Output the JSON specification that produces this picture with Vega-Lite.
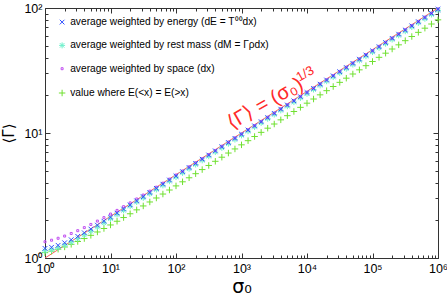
{
  "$schema": "https://vega.github.io/schema/vega-lite/v6.json",
  "width": 393,
  "height": 250,
  "autosize": "none",
  "padding": {"left": 45, "top": 8, "right": 9, "bottom": 42},
  "background": "white",
  "config": {"view": {"stroke": null}, "font": "Liberation Sans"},
  "datasets": {
    "theory": [{"sigma0": 1, "gamma": 1}, {"sigma0": 1000000, "gamma": 100}],
    "note": [{"sigma0": 2557, "gamma": 15.59, "text": "⟨Γ⟩ = (σ₀)", "fs": 20}, {"sigma0": 10035, "gamma": 27.9, "text": "1/3", "fs": 13}],
    "pts": [
      {"sigma0":1,"gamma":1.104,"series":"H"},{"sigma0":1.259,"gamma":1.135,"series":"H"},{"sigma0":1.585,"gamma":1.176,"series":"H"},{"sigma0":1.995,"gamma":1.226,"series":"H"},{"sigma0":2.512,"gamma":1.286,"series":"H"},{"sigma0":3.162,"gamma":1.355,"series":"H"},{"sigma0":3.981,"gamma":1.431,"series":"H"},{"sigma0":5.012,"gamma":1.518,"series":"H"},{"sigma0":6.31,"gamma":1.615,"series":"H"},{"sigma0":7.943,"gamma":1.722,"series":"H"},
      {"sigma0":10,"gamma":1.838,"series":"H"},{"sigma0":12.59,"gamma":1.968,"series":"H"},{"sigma0":15.85,"gamma":2.107,"series":"H"},{"sigma0":19.95,"gamma":2.259,"series":"H"},{"sigma0":25.12,"gamma":2.428,"series":"H"},{"sigma0":31.62,"gamma":2.609,"series":"H"},{"sigma0":39.81,"gamma":2.807,"series":"H"},{"sigma0":50.12,"gamma":3.02,"series":"H"},{"sigma0":63.1,"gamma":3.249,"series":"H"},{"sigma0":79.43,"gamma":3.499,"series":"H"},
      {"sigma0":100,"gamma":3.774,"series":"H"},{"sigma0":125.9,"gamma":4.07,"series":"H"},{"sigma0":158.5,"gamma":4.383,"series":"H"},{"sigma0":199.5,"gamma":4.727,"series":"H"},{"sigma0":251.2,"gamma":5.098,"series":"H"},{"sigma0":316.2,"gamma":5.498,"series":"H"},{"sigma0":398.1,"gamma":5.937,"series":"H"},{"sigma0":501.2,"gamma":6.402,"series":"H"},{"sigma0":631,"gamma":6.913,"series":"H"},{"sigma0":794.3,"gamma":7.455,"series":"H"},
      {"sigma0":1000,"gamma":8.04,"series":"H"},{"sigma0":1259,"gamma":8.682,"series":"H"},{"sigma0":1585,"gamma":9.374,"series":"H"},{"sigma0":1995,"gamma":10.12,"series":"H"},{"sigma0":2512,"gamma":10.93,"series":"H"},{"sigma0":3162,"gamma":11.8,"series":"H"},{"sigma0":3981,"gamma":12.74,"series":"H"},{"sigma0":5012,"gamma":13.76,"series":"H"},{"sigma0":6310,"gamma":14.86,"series":"H"},{"sigma0":7943,"gamma":16.04,"series":"H"},
      {"sigma0":10000,"gamma":17.32,"series":"H"},{"sigma0":12589,"gamma":18.7,"series":"H"},{"sigma0":15849,"gamma":20.2,"series":"H"},{"sigma0":19953,"gamma":21.81,"series":"H"},{"sigma0":25119,"gamma":23.55,"series":"H"},{"sigma0":31623,"gamma":25.42,"series":"H"},{"sigma0":39811,"gamma":27.45,"series":"H"},{"sigma0":50119,"gamma":29.64,"series":"H"},{"sigma0":63096,"gamma":32.01,"series":"H"},{"sigma0":79433,"gamma":34.56,"series":"H"},
      {"sigma0":100000,"gamma":37.32,"series":"H"},{"sigma0":125893,"gamma":40.3,"series":"H"},{"sigma0":158489,"gamma":43.51,"series":"H"},{"sigma0":199526,"gamma":46.98,"series":"H"},{"sigma0":251189,"gamma":50.73,"series":"H"},{"sigma0":316228,"gamma":54.78,"series":"H"},{"sigma0":398107,"gamma":59.15,"series":"H"},{"sigma0":501187,"gamma":63.86,"series":"H"},{"sigma0":630957,"gamma":68.96,"series":"H"},{"sigma0":794328,"gamma":74.46,"series":"H"},{"sigma0":1000000,"gamma":80.4,"series":"H"},

      {"sigma0":1,"gamma":1.14,"series":"M"},{"sigma0":1.259,"gamma":1.165,"series":"M"},{"sigma0":1.585,"gamma":1.207,"series":"M"},{"sigma0":1.995,"gamma":1.268,"series":"M"},{"sigma0":2.512,"gamma":1.34,"series":"M"},{"sigma0":3.162,"gamma":1.428,"series":"M"},{"sigma0":3.981,"gamma":1.528,"series":"M"},{"sigma0":5.012,"gamma":1.638,"series":"M"},{"sigma0":6.31,"gamma":1.768,"series":"M"},{"sigma0":7.943,"gamma":1.909,"series":"M"},
      {"sigma0":10,"gamma":2.062,"series":"M"},{"sigma0":12.59,"gamma":2.226,"series":"M"},{"sigma0":15.85,"gamma":2.404,"series":"M"},{"sigma0":19.95,"gamma":2.596,"series":"M"},{"sigma0":25.12,"gamma":2.803,"series":"M"},{"sigma0":31.62,"gamma":3.026,"series":"M"},{"sigma0":39.81,"gamma":3.268,"series":"M"},{"sigma0":50.12,"gamma":3.528,"series":"M"},{"sigma0":63.1,"gamma":3.81,"series":"M"},{"sigma0":79.43,"gamma":4.114,"series":"M"},
      {"sigma0":100,"gamma":4.442,"series":"M"},{"sigma0":125.9,"gamma":4.796,"series":"M"},{"sigma0":158.5,"gamma":5.179,"series":"M"},{"sigma0":199.5,"gamma":5.592,"series":"M"},{"sigma0":251.2,"gamma":6.038,"series":"M"},{"sigma0":316.2,"gamma":6.52,"series":"M"},{"sigma0":398.1,"gamma":7.04,"series":"M"},{"sigma0":501.2,"gamma":7.602,"series":"M"},{"sigma0":631,"gamma":8.208,"series":"M"},{"sigma0":794.3,"gamma":8.863,"series":"M"},
      {"sigma0":1000,"gamma":9.57,"series":"M"},{"sigma0":1259,"gamma":10.33,"series":"M"},{"sigma0":1585,"gamma":11.16,"series":"M"},{"sigma0":1995,"gamma":12.05,"series":"M"},{"sigma0":2512,"gamma":13.01,"series":"M"},{"sigma0":3162,"gamma":14.05,"series":"M"},{"sigma0":3981,"gamma":15.17,"series":"M"},{"sigma0":5012,"gamma":16.38,"series":"M"},{"sigma0":6310,"gamma":17.68,"series":"M"},{"sigma0":7943,"gamma":19.09,"series":"M"},
      {"sigma0":10000,"gamma":20.62,"series":"M"},{"sigma0":12589,"gamma":22.26,"series":"M"},{"sigma0":15849,"gamma":24.04,"series":"M"},{"sigma0":19953,"gamma":25.96,"series":"M"},{"sigma0":25119,"gamma":28.03,"series":"M"},{"sigma0":31623,"gamma":30.26,"series":"M"},{"sigma0":39811,"gamma":32.68,"series":"M"},{"sigma0":50119,"gamma":35.28,"series":"M"},{"sigma0":63096,"gamma":38.1,"series":"M"},{"sigma0":79433,"gamma":41.14,"series":"M"},
      {"sigma0":100000,"gamma":44.42,"series":"M"},{"sigma0":125893,"gamma":47.96,"series":"M"},{"sigma0":158489,"gamma":51.79,"series":"M"},{"sigma0":199526,"gamma":55.92,"series":"M"},{"sigma0":251189,"gamma":60.38,"series":"M"},{"sigma0":316228,"gamma":65.2,"series":"M"},{"sigma0":398107,"gamma":70.4,"series":"M"},{"sigma0":501187,"gamma":76.02,"series":"M"},{"sigma0":630957,"gamma":82.08,"series":"M"},{"sigma0":794328,"gamma":88.63,"series":"M"},{"sigma0":1000000,"gamma":95.7,"series":"M"},

      {"sigma0":1,"gamma":1.349,"series":"V"},{"sigma0":1.259,"gamma":1.388,"series":"V"},{"sigma0":1.585,"gamma":1.438,"series":"V"},{"sigma0":1.995,"gamma":1.498,"series":"V"},{"sigma0":2.512,"gamma":1.571,"series":"V"},{"sigma0":3.162,"gamma":1.654,"series":"V"},{"sigma0":3.981,"gamma":1.75,"series":"V"},{"sigma0":5.012,"gamma":1.855,"series":"V"},{"sigma0":6.31,"gamma":1.974,"series":"V"},{"sigma0":7.943,"gamma":2.103,"series":"V"},
      {"sigma0":10,"gamma":2.247,"series":"V"},{"sigma0":12.59,"gamma":2.403,"series":"V"},{"sigma0":15.85,"gamma":2.575,"series":"V"},{"sigma0":19.95,"gamma":2.761,"series":"V"},{"sigma0":25.12,"gamma":2.967,"series":"V"},{"sigma0":31.62,"gamma":3.188,"series":"V"},{"sigma0":39.81,"gamma":3.428,"series":"V"},{"sigma0":50.12,"gamma":3.687,"series":"V"},{"sigma0":63.1,"gamma":3.969,"series":"V"},{"sigma0":79.43,"gamma":4.277,"series":"V"},
      {"sigma0":100,"gamma":4.609,"series":"V"},{"sigma0":125.9,"gamma":4.967,"series":"V"},{"sigma0":158.5,"gamma":5.358,"series":"V"},{"sigma0":199.5,"gamma":5.779,"series":"V"},{"sigma0":251.2,"gamma":6.228,"series":"V"},{"sigma0":316.2,"gamma":6.718,"series":"V"},{"sigma0":398.1,"gamma":7.253,"series":"V"},{"sigma0":501.2,"gamma":7.832,"series":"V"},{"sigma0":631,"gamma":8.457,"series":"V"},{"sigma0":794.3,"gamma":9.132,"series":"V"},
      {"sigma0":1000,"gamma":9.83,"series":"V"},{"sigma0":1259,"gamma":10.61,"series":"V"},{"sigma0":1585,"gamma":11.46,"series":"V"},{"sigma0":1995,"gamma":12.37,"series":"V"},{"sigma0":2512,"gamma":13.36,"series":"V"},{"sigma0":3162,"gamma":14.43,"series":"V"},{"sigma0":3981,"gamma":15.58,"series":"V"},{"sigma0":5012,"gamma":16.82,"series":"V"},{"sigma0":6310,"gamma":18.16,"series":"V"},{"sigma0":7943,"gamma":19.61,"series":"V"},
      {"sigma0":10000,"gamma":21.18,"series":"V"},{"sigma0":12589,"gamma":22.87,"series":"V"},{"sigma0":15849,"gamma":24.69,"series":"V"},{"sigma0":19953,"gamma":26.66,"series":"V"},{"sigma0":25119,"gamma":28.79,"series":"V"},{"sigma0":31623,"gamma":31.09,"series":"V"},{"sigma0":39811,"gamma":33.56,"series":"V"},{"sigma0":50119,"gamma":36.24,"series":"V"},{"sigma0":63096,"gamma":39.13,"series":"V"},{"sigma0":79433,"gamma":42.26,"series":"V"},
      {"sigma0":100000,"gamma":45.63,"series":"V"},{"sigma0":125893,"gamma":49.27,"series":"V"},{"sigma0":158489,"gamma":53.2,"series":"V"},{"sigma0":199526,"gamma":57.44,"series":"V"},{"sigma0":251189,"gamma":62.02,"series":"V"},{"sigma0":316228,"gamma":66.97,"series":"V"},{"sigma0":398107,"gamma":72.31,"series":"V"},{"sigma0":501187,"gamma":78.08,"series":"V"},{"sigma0":630957,"gamma":84.31,"series":"V"},{"sigma0":794328,"gamma":91.04,"series":"V"},{"sigma0":1000000,"gamma":98.3,"series":"V"},

      {"sigma0":1,"gamma":1.194,"series":"E"},{"sigma0":1.259,"gamma":1.218,"series":"E"},{"sigma0":1.585,"gamma":1.263,"series":"E"},{"sigma0":1.995,"gamma":1.324,"series":"E"},{"sigma0":2.512,"gamma":1.4,"series":"E"},{"sigma0":3.162,"gamma":1.49,"series":"E"},{"sigma0":3.981,"gamma":1.591,"series":"E"},{"sigma0":5.012,"gamma":1.705,"series":"E"},{"sigma0":6.31,"gamma":1.831,"series":"E"},{"sigma0":7.943,"gamma":1.969,"series":"E"},
      {"sigma0":10,"gamma":2.12,"series":"E"},{"sigma0":12.59,"gamma":2.284,"series":"E"},{"sigma0":15.85,"gamma":2.464,"series":"E"},{"sigma0":19.95,"gamma":2.658,"series":"E"},{"sigma0":25.12,"gamma":2.864,"series":"E"},{"sigma0":31.62,"gamma":3.093,"series":"E"},{"sigma0":39.81,"gamma":3.339,"series":"E"},{"sigma0":50.12,"gamma":3.606,"series":"E"},{"sigma0":63.1,"gamma":3.893,"series":"E"},{"sigma0":79.43,"gamma":4.204,"series":"E"},
      {"sigma0":100,"gamma":4.539,"series":"E"},{"sigma0":125.9,"gamma":4.902,"series":"E"},{"sigma0":158.5,"gamma":5.293,"series":"E"},{"sigma0":199.5,"gamma":5.715,"series":"E"},{"sigma0":251.2,"gamma":6.171,"series":"E"},{"sigma0":316.2,"gamma":6.663,"series":"E"},{"sigma0":398.1,"gamma":7.195,"series":"E"},{"sigma0":501.2,"gamma":7.769,"series":"E"},{"sigma0":631,"gamma":8.388,"series":"E"},{"sigma0":794.3,"gamma":9.057,"series":"E"},
      {"sigma0":1000,"gamma":9.78,"series":"E"},{"sigma0":1259,"gamma":10.56,"series":"E"},{"sigma0":1585,"gamma":11.4,"series":"E"},{"sigma0":1995,"gamma":12.31,"series":"E"},{"sigma0":2512,"gamma":13.29,"series":"E"},{"sigma0":3162,"gamma":14.35,"series":"E"},{"sigma0":3981,"gamma":15.5,"series":"E"},{"sigma0":5012,"gamma":16.74,"series":"E"},{"sigma0":6310,"gamma":18.07,"series":"E"},{"sigma0":7943,"gamma":19.51,"series":"E"},
      {"sigma0":10000,"gamma":21.07,"series":"E"},{"sigma0":12589,"gamma":22.75,"series":"E"},{"sigma0":15849,"gamma":24.57,"series":"E"},{"sigma0":19953,"gamma":26.53,"series":"E"},{"sigma0":25119,"gamma":28.64,"series":"E"},{"sigma0":31623,"gamma":30.93,"series":"E"},{"sigma0":39811,"gamma":33.39,"series":"E"},{"sigma0":50119,"gamma":36.06,"series":"E"},{"sigma0":63096,"gamma":38.93,"series":"E"},{"sigma0":79433,"gamma":42.04,"series":"E"},
      {"sigma0":100000,"gamma":45.39,"series":"E"},{"sigma0":125893,"gamma":49.02,"series":"E"},{"sigma0":158489,"gamma":52.93,"series":"E"},{"sigma0":199526,"gamma":57.15,"series":"E"},{"sigma0":251189,"gamma":61.71,"series":"E"},{"sigma0":316228,"gamma":66.63,"series":"E"},{"sigma0":398107,"gamma":71.95,"series":"E"},{"sigma0":501187,"gamma":77.69,"series":"E"},{"sigma0":630957,"gamma":83.88,"series":"E"},{"sigma0":794328,"gamma":90.57,"series":"E"},{"sigma0":1000000,"gamma":97.8,"series":"E"}
    ]
  },
  "layer": [
    {
      "data": {"name": "theory"},
      "mark": {"type": "line", "color": "#ff6060", "strokeWidth": 1, "clip": true},
      "encoding": {
        "x": {"field": "sigma0", "type": "quantitative", "scale": {"type": "log", "domain": [1, 1000000], "nice": false},
          "axis": {"orient": "top", "values": [1,2,3,4,5,6,7,8,9,10,20,30,40,50,60,70,80,90,100,200,300,400,500,600,700,800,900,1000,2000,3000,4000,5000,6000,7000,8000,9000,10000,20000,30000,40000,50000,60000,70000,80000,90000,100000,200000,300000,400000,500000,600000,700000,800000,900000,1000000],
            "labels": false, "title": null, "grid": false, "domainColor": "#333", "tickColor": "#333",
            "tickSize": {"condition": {"test": "abs(log(datum.value)/LN10 - round(log(datum.value)/LN10)) < 0.001", "value": -5}, "value": -3}}},
        "y": {"field": "gamma", "type": "quantitative", "scale": {"type": "log", "domain": [1, 100], "nice": false},
          "axis": {"orient": "right", "values": [1,2,3,4,5,6,7,8,9,10,20,30,40,50,60,70,80,90,100],
            "labels": false, "title": null, "grid": false, "domainColor": "#333", "tickColor": "#333",
            "tickSize": {"condition": {"test": "abs(log(datum.value)/LN10 - round(log(datum.value)/LN10)) < 0.001", "value": -5}, "value": -3}}}
      }
    },
    {
      "data": {"name": "pts"},
      "mark": {"type": "point", "filled": false, "opacity": 1, "strokeWidth": 1},
      "encoding": {
        "x": {"field": "sigma0", "type": "quantitative", "scale": {"type": "log", "domain": [1, 1000000], "nice": false},
          "axis": {"orient": "bottom", "values": [1,2,3,4,5,6,7,8,9,10,20,30,40,50,60,70,80,90,100,200,300,400,500,600,700,800,900,1000,2000,3000,4000,5000,6000,7000,8000,9000,10000,20000,30000,40000,50000,60000,70000,80000,90000,100000,200000,300000,400000,500000,600000,700000,800000,900000,1000000],
            "labelExpr": "abs(log(datum.value)/LN10 - round(log(datum.value)/LN10)) < 0.001 ? '10' + ['⁰','¹','²','³','⁴','⁵','⁶'][round(log(datum.value)/LN10)] : ''",
            "labelFlush": false, "labelOverlap": false, "labelFontSize": 12.5, "labelColor": "black", "labelPadding": 9,
            "title": "σ₀", "titleFontSize": 19, "titleFontWeight": "normal", "titleColor": "black", "titlePadding": 1, "titleFont": "DejaVu Sans",
            "grid": false, "domainColor": "#333", "tickColor": "#333",
            "tickSize": {"condition": {"test": "abs(log(datum.value)/LN10 - round(log(datum.value)/LN10)) < 0.001", "value": -5}, "value": -3}}},
        "y": {"field": "gamma", "type": "quantitative", "scale": {"type": "log", "domain": [1, 100], "nice": false},
          "axis": {"orient": "left", "values": [1,2,3,4,5,6,7,8,9,10,20,30,40,50,60,70,80,90,100],
            "labelExpr": "abs(log(datum.value)/LN10 - round(log(datum.value)/LN10)) < 0.001 ? '10' + ['⁰','¹','²'][round(log(datum.value)/LN10)] : ''",
            "labelFlush": false, "labelOverlap": false, "labelFontSize": 12.5, "labelColor": "black", "labelPadding": 8,
            "title": "⟨Γ⟩", "titleFontSize": 15, "titleFontWeight": "normal", "titleColor": "black", "titlePadding": 7, "titleFont": "DejaVu Sans",
            "grid": false, "domainColor": "#333", "tickColor": "#333",
            "tickSize": {"condition": {"test": "abs(log(datum.value)/LN10 - round(log(datum.value)/LN10)) < 0.001", "value": -5}, "value": -3}}},
        "color": {"field": "series", "type": "nominal",
          "scale": {"domain": ["E", "M", "V", "H"], "range": ["#3050ff", "#70f0cc", "#c050f0", "#70e030"]},
          "legend": {"orient": "none", "legendX": 12, "legendY": 9, "title": null, "padding": 0,
            "labelFontSize": 10.2, "labelFont": "Liberation Sans", "rowPadding": 12.3, "labelOffset": 3, "symbolStrokeWidth": 1,
            "labelLimit": 400,
            "labelExpr": "datum.label == 'E' ? 'average weighted by energy (dE = T⁰⁰dx)' : datum.label == 'M' ? 'average weighted by rest mass (dM = Γρdx)' : datum.label == 'V' ? 'average weighted by space (dx)' : 'value where E(<x) = E(>x)'",
            "encode": {"labels": {"update": {"fill": {"scale": "color", "field": "value"}}}}}},
        "shape": {"field": "series", "type": "nominal",
          "scale": {"domain": ["E", "M", "V", "H"], "range": ["M-1,-1L1,1M-1,1L1,-1", "M-1,0L1,0M0,-1L0,1M-0.75,-0.75L0.75,0.75M-0.75,0.75L0.75,-0.75", "square", "M-1,0L1,0M0,-1L0,1"]}},
        "size": {"field": "series", "type": "nominal",
          "scale": {"type": "ordinal", "domain": ["E", "M", "V", "H"], "range": [22, 36, 4, 42]}}
      }
    },
    {
      "data": {"name": "note"},
      "mark": {"type": "text", "color": "#ff2a2a", "angle": 330, "align": "center", "baseline": "alphabetic", "font": "Liberation Sans"},
      "encoding": {
        "x": {"field": "sigma0", "type": "quantitative", "axis": null},
        "y": {"field": "gamma", "type": "quantitative", "axis": null},
        "size": {"field": "fs", "type": "quantitative", "scale": null, "legend": null},
        "text": {"field": "text"}
      }
    }
  ],
  "resolve": {"axis": {"x": "independent", "y": "independent"}}
}
